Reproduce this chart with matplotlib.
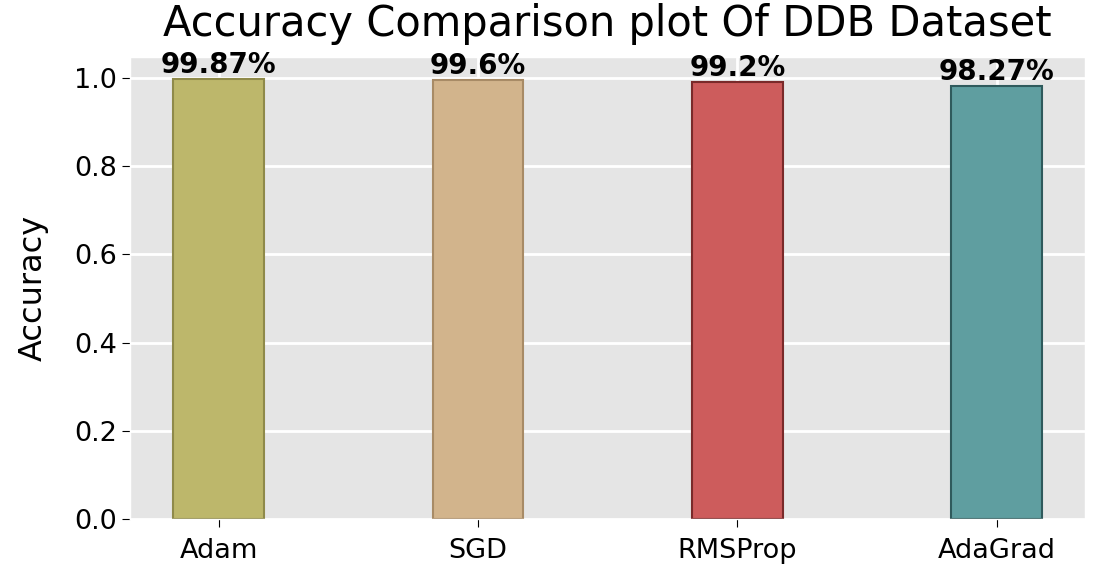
import matplotlib
matplotlib.use("Agg")
import matplotlib.pyplot as plt

optimizers = ["Adam", "SGD", "RMSProp", "AdaGrad"]
accuracy = [0.9987, 0.996, 0.992, 0.9827]
bar_colors = ["darkkhaki", "tan", "indianred", "cadetblue"]
edge_colors = ["#8f8a4a", "#a88b66", "#7a2a2a", "#2f5a5c"]

plt.style.use("ggplot")
fig, ax = plt.subplots(figsize=(10.93, 5.66), dpi=100)

x = range(len(optimizers))
bars = ax.bar(x, accuracy, width=0.35, color=bar_colors, edgecolor=edge_colors, linewidth=1.5)

for rect, acc in zip(bars, accuracy):
    ax.text(rect.get_x() + rect.get_width() / 2, rect.get_height(),
            f"{round(acc * 100, 2)}%", ha="center", va="bottom",
            fontsize=20, fontweight="bold", color="black")

ax.grid(True, color="white", linewidth=2)
ax.set_xticks(list(x))
ax.set_xticklabels(optimizers)
ax.tick_params(axis="both", labelsize=19.5, labelcolor="black", colors="black", length=6)
ax.tick_params(axis="x", pad=8)
ax.set_ylabel("Accuracy", fontsize=23, color="black", labelpad=18)
ax.set_title("Accuracy Comparison plot Of DDB Dataset", fontsize=30, color="black", pad=15)

plt.subplots_adjust(left=0.119, right=0.993, top=0.9, bottom=0.083)
plt.savefig("out.png")
